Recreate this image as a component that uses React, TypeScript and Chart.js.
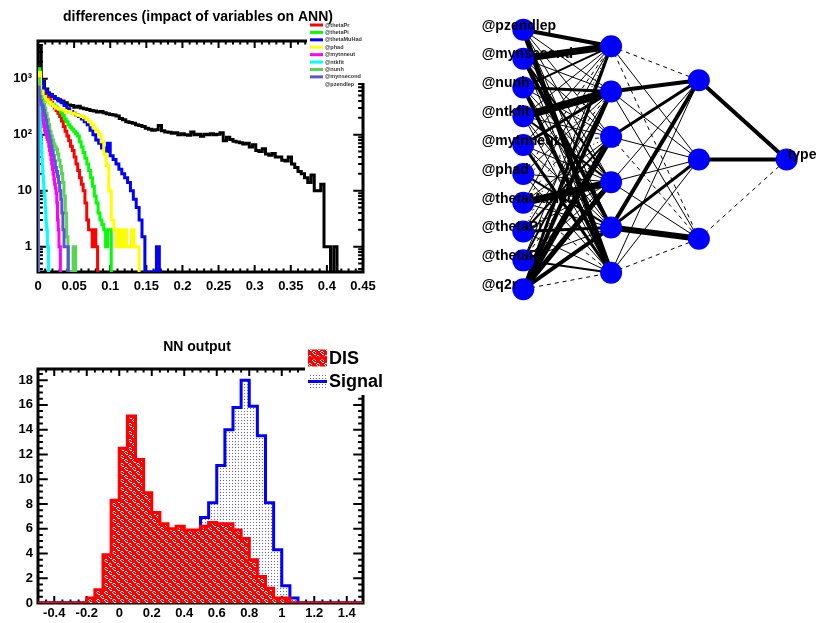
import React, { useEffect, useRef } from 'react';
import { Chart, registerables } from 'chart.js';

Chart.register(...registerables);

const FONT = "'Liberation Sans', Arial, Helvetica, sans-serif";

// ---------- differences (impact of variables on ANN) ----------
const DIFF_TITLE = 'differences (impact of variables on ANN)';
const DIFF_X_TICKS = [0, 0.05, 0.1, 0.15, 0.2, 0.25, 0.3, 0.35, 0.4, 0.45];
const DIFF_X_LABELS = ['0', '0.05', '0.1', '0.15', '0.2', '0.25', '0.3', '0.35', '0.4', '0.45'];
const DIFF_Y_TICKS = [1, 10, 100, 1000];
const DIFF_Y_LABELS = ['1', '10', '10²', '10³'];
const DIFF_X_MIN = 0;
const DIFF_X_MAX = 0.45;
const DIFF_Y_MIN = 0.353;
const DIFF_Y_MAX = 4700;

// bin contents per input variable (each histogram has its own bin width)
const BIN_Q2R = 0.0045;
const DIFF_Q2R = [
  3700, 900, 650, 520, 480, 440, 420, 400, 370, 340,
  330, 310, 320, 300, 290, 280, 270, 265, 255, 260,
  245, 235, 230, 225, 215, 195, 185, 170, 165, 160,
  150, 145, 140, 130, 125, 120, 122, 145, 118, 112,
  110, 106, 108, 100, 104, 100, 98, 112, 100, 102,
  94, 102, 100, 104, 100, 102, 108, 78, 90, 82,
  76, 74, 72, 68, 70, 60, 66, 52, 50, 56,
  45, 43, 46, 40, 40, 35, 34, 40, 30, 26,
  22, 20, 17, 14, 19, 10, 10, 13, 1, 1,
  0, 1, 0,
];
const BIN_THETAPR = 0.0025;
const DIFF_THETAPR = [
  900, 650, 580, 540, 500, 470, 420, 380, 340, 300,
  270, 240, 210, 175, 140, 115, 95, 78, 62, 52,
  40, 30, 23, 17, 13, 10, 6, 3, 2, 2,
  1, 2, 1, 0,
];
const BIN_THETAPI = 0.0026;
const DIFF_THETAPI = [
  1500, 600, 480, 440, 410, 390, 370, 350, 340, 320,
  300, 280, 250, 220, 190, 170, 150, 135, 125, 115,
  105, 95, 75, 60, 48, 38, 30, 23, 17, 12,
  8, 6, 4, 3, 2.5, 2, 1, 2, 2, 0,
];
const BIN_THETAMUHAD = 0.004;
const DIFF_THETAMUHAD = [
  1200, 900, 640, 560, 520, 480, 440, 400, 370, 330,
  290, 260, 240, 225, 210, 190, 170, 150, 120, 100,
  80, 70, 58, 50, 70, 42, 36, 30, 24, 20,
  17, 14, 10, 7, 5, 3, 1.5, 0, 0, 0,
  0, 1, 0,
];
const BIN_PHAD = 0.0035;
const DIFF_PHAD = [
  1300, 600, 480, 420, 380, 350, 320, 300, 290, 280,
  270, 255, 260, 240, 235, 225, 220, 210, 200, 185,
  170, 150, 130, 115, 100, 75, 45, 28, 10, 3,
  2, 1, 2, 1, 2, 1, 1, 2, 1, 1,
];
const BIN_MYTNNEUT = 0.001;
const DIFF_MYTNNEUT = [
  900, 500, 380, 300, 250, 210, 180, 160, 140, 120,
  110, 100, 90, 82, 75, 62, 52, 44, 36, 30,
  24, 20, 16, 13, 11, 9, 6, 3, 2, 1,
  1, 0,
];
const BIN_NTKFIT = 0.0005;
const DIFF_NTKFIT = [
  800, 600, 480, 370, 260, 190, 140, 110, 80, 60,
  48, 36, 28, 22, 18, 14, 11, 9, 8, 7,
  5, 4, 3, 2.5, 2, 2, 1, 1, 1, 0,
];
const BIN_NUNH = 0.0018;
const DIFF_NUNH = [
  1000, 600, 480, 400, 350, 300, 240, 190, 150, 115,
  95, 80, 68, 60, 55, 45, 35, 27, 20, 14,
  8, 4, 1.5, 0, 0, 0, 0, 1, 1, 0,
];
const BIN_MYNSECOND = 0.0015;
const DIFF_MYNSECOND = [
  700, 480, 400, 350, 320, 270, 220, 180, 140, 115,
  95, 78, 62, 52, 42, 34, 26, 22, 18, 14,
  10, 7, 4, 2, 1, 1, 1, 1,
];

const DIFF_SERIES = [
  { name: '@q2r', color: '#000000', bin: BIN_Q2R, counts: DIFF_Q2R },
  { name: '@thetaPr', color: '#ff0000', bin: BIN_THETAPR, counts: DIFF_THETAPR },
  { name: '@thetaPi', color: '#00ff00', bin: BIN_THETAPI, counts: DIFF_THETAPI },
  { name: '@thetaMuHad', color: '#0000ff', bin: BIN_THETAMUHAD, counts: DIFF_THETAMUHAD },
  { name: '@phad', color: '#ffff00', bin: BIN_PHAD, counts: DIFF_PHAD },
  { name: '@mytnneut', color: '#ff00ff', bin: BIN_MYTNNEUT, counts: DIFF_MYTNNEUT },
  { name: '@ntkfit', color: '#00ffff', bin: BIN_NTKFIT, counts: DIFF_NTKFIT },
  { name: '@nunh', color: '#59d454', bin: BIN_NUNH, counts: DIFF_NUNH },
  { name: '@mynsecond', color: '#5954d9', bin: BIN_MYNSECOND, counts: DIFF_MYNSECOND },
  { name: '@pzendlep', color: '#ffffff', bin: 0, counts: [] as number[] },
];

// ---------- NN output ----------
const NN_TITLE = 'NN output';
const NN_X_MIN = -0.5;
const NN_X_MAX = 1.5;
const NN_BIN = 0.05;
const NN_Y_MIN = 0;
const NN_Y_MAX = 18.9;
const NN_X_TICKS = [-0.4, -0.2, 0, 0.2, 0.4, 0.6, 0.8, 1, 1.2, 1.4];
const NN_X_LABELS = ['-0.4', '-0.2', '0', '0.2', '0.4', '0.6', '0.8', '1', '1.2', '1.4'];
const NN_Y_TICKS = [0, 2, 4, 6, 8, 10, 12, 14, 16, 18];
const NN_Y_LABELS = ['0', '2', '4', '6', '8', '10', '12', '14', '16', '18'];
const NN_DIS = [
  0, 0, 0, 0, 0, 0, 0.4, 1.07, 3.9, 8.3,
  12.5, 15.1, 11.6, 8.9, 7.3, 6.4, 6.0, 6.2, 5.9, 5.9,
  6.2, 6.5, 6.4, 6.4, 5.9, 5.2, 3.5, 2.15, 1.2, 0.4,
  0.4, 0, 0, 0, 0, 0, 0, 0, 0, 0,
];
const NN_SIGNAL = [
  0, 0, 0, 0, 0, 0, 0.15, 0.15, 0.15, 0.15,
  0.4, 1.2, 1.2, 1.8, 2.1, 2.3, 2.9, 3.8, 4.6, 5.1,
  6.9, 8.1, 11.1, 14.0, 15.8, 18.0, 15.9, 13.5, 8.1, 4.3,
  1.4, 0.4, 0, 0, 0, 0, 0, 0, 0, 0,
];
const NN_LEGEND = ['DIS', 'Signal'];

// ---------- network structure ----------
const NET_INPUTS = ['@q2r', '@thetaPr', '@thetaPi', '@thetaMuHad', '@phad', '@mytnneut', '@ntkfit', '@nunh', '@mynsecond', '@pzendlep'];
const NET_HIDDEN = [6, 3];
const NET_OUTPUTS = ['type'];
// synapse weights relative to the largest one (rows: from-neuron, cols: to-neuron, bottom to top)
const W_IN_H1 = [
  [-0.03, 0.45, -0.55, 0.65, 0.42, 0.36],
  [0.25, -0.12, 0.13, -0.03, 0.22, -0.11],
  [0.14, -0.33, 0.11, 0.24, -0.12, 0.02],
  [-0.03, 0.12, 0.74, -0.15, 0.03, 0.13],
  [0.11, -0.21, 0.14, 0.02, -0.12, -0.03],
  [0.32, -0.11, 0.13, -0.03, 0.35, 0.11],
  [0.12, -0.14, 0.23, 0.11, -0.84, 0.13],
  [-0.45, 0.13, 0.12, -0.14, 0.33, 0.22],
  [0.11, 0.44, -0.23, 0.12, 0.15, -0.76],
  [0.54, -0.13, 0.12, 0.11, -0.14, 0.45],
];
const W_H1_H2 = [
  [-0.03, 0.12, 0.11],
  [0.65, -0.35, 0.44],
  [0.13, 0.11, -0.12],
  [-0.03, 0.14, 0.33],
  [0.11, -0.12, 0.45],
  [0.03, 0.13, -0.04],
];
const W_H2_OUT = [[-0.03], [0.43], [0.46]];

// ---------- helpers ----------
function histPoints(counts: number[], lo: number, width: number, floor: number) {
  const pts = [{ x: lo, y: floor }];
  counts.forEach((c, i) => pts.push({ x: lo + i * width, y: c > 0 ? c : floor }));
  const last = counts[counts.length - 1];
  const hi = lo + counts.length * width;
  pts.push({ x: hi, y: last > 0 ? last : floor });
  pts.push({ x: hi, y: floor });
  return pts;
}

function range(from: number, to: number, step: number) {
  const out: number[] = [];
  const n = Math.round((to - from) / step);
  for (let i = 0; i <= n; i++) out.push(+(from + i * step).toFixed(6));
  return out;
}

function logMinor(lo: number, hi: number) {
  const out: number[] = [];
  for (let d = 0.1; d <= hi; d *= 10) {
    for (let m = 2; m <= 9; m++) {
      const v = m * d;
      if (v >= lo && v <= hi) out.push(v);
    }
  }
  return out;
}

type FrameTicks = { xMajor: number[]; xMinor: number[]; yMajor: number[]; yMinor: number[]; xLen: number; yLen: number };

function framePlugin(t: FrameTicks) {
  return {
    id: 'rootFrame',
    beforeDatasetsDraw(chart: any) {
      const { ctx, chartArea: a } = chart;
      const xs = chart.scales.x;
      const ys = chart.scales.y;
      ctx.save();
      ctx.strokeStyle = '#000';
      ctx.lineWidth = 2;
      ctx.beginPath();
      const xTick = (v: number, len: number) => {
        const px = xs.getPixelForValue(v);
        if (px < a.left - 0.5 || px > a.right + 0.5) return;
        ctx.moveTo(px, a.bottom);
        ctx.lineTo(px, a.bottom - len);
        ctx.moveTo(px, a.top);
        ctx.lineTo(px, a.top + len);
      };
      const yTick = (v: number, len: number) => {
        const py = ys.getPixelForValue(v);
        if (py < a.top - 0.5 || py > a.bottom + 0.5) return;
        ctx.moveTo(a.left, py);
        ctx.lineTo(a.left + len, py);
        ctx.moveTo(a.right, py);
        ctx.lineTo(a.right - len, py);
      };
      t.xMajor.forEach((v) => xTick(v, t.xLen));
      t.xMinor.forEach((v) => xTick(v, t.xLen / 2));
      t.yMajor.forEach((v) => yTick(v, t.yLen));
      t.yMinor.forEach((v) => yTick(v, t.yLen / 2));
      ctx.stroke();
      ctx.lineWidth = 3;
      ctx.strokeRect(a.left, a.top, a.right - a.left, a.bottom - a.top);
      ctx.restore();
    },
  };
}

function tickFont() {
  return { family: FONT, size: 13, weight: 'bold' as const };
}

// red "weave" hatch: white S-shaped curls on red
const WEAVE_TILE = [
  'RWWRRRRR',
  'WRRWRRRR',
  'RWRRRRRR',
  'RRWWRRRR',
  'RRRRRWWR',
  'RRRRWRRW',
  'RRRRRWRR',
  'RRRRRRWW',
];

function makeWeave(): any {
  const c = document.createElement('canvas');
  c.width = 8;
  c.height = 8;
  const g = c.getContext('2d');
  if (!g) return '#ff0000';
  WEAVE_TILE.forEach((row, y) => {
    for (let x = 0; x < row.length; x++) {
      g.fillStyle = row[x] === 'R' ? '#ff0000' : '#ffffff';
      g.fillRect(x, y, 1, 1);
    }
  });
  return g.createPattern(c, 'repeat') || '#ff0000';
}

function makeDots(): any {
  const c = document.createElement('canvas');
  c.width = 3;
  c.height = 3;
  const g = c.getContext('2d');
  if (!g) return 'rgba(0,0,255,0.15)';
  g.fillStyle = 'rgba(40,40,255,0.75)';
  g.fillRect(1, 1, 1, 1);
  return g.createPattern(c, 'repeat') || 'rgba(0,0,255,0.15)';
}

// ---------- panels ----------
function DiffPanel() {
  const ref = useRef<HTMLCanvasElement>(null);
  useEffect(() => {
    const canvas = ref.current;
    if (!canvas) return;
    const drawn = DIFF_SERIES.filter((s) => s.counts.length > 0);
    const datasets = drawn.map((s, i) => ({
      data: histPoints(s.counts, DIFF_X_MIN, s.bin, DIFF_Y_MIN),
      borderColor: s.color,
      borderWidth: 3,
      pointRadius: 0,
      stepped: true,
      fill: false,
      borderJoinStyle: 'miter',
      order: 100 - i,
    }));
    const overlay = {
      id: 'diffOverlay',
      afterDraw(chart: any) {
        const ctx = chart.ctx;
        ctx.save();
        ctx.fillStyle = '#fff';
        ctx.fillRect(307, 0, 95, 83);
        ctx.font = `bold 5.5px ${FONT}`;
        ctx.textAlign = 'left';
        ctx.textBaseline = 'middle';
        DIFF_SERIES.forEach((s, k) => {
          const y = 17.6 + 7.41 * k;
          ctx.strokeStyle = s.color;
          ctx.lineWidth = 3;
          ctx.beginPath();
          ctx.moveTo(310, y);
          ctx.lineTo(323, y);
          ctx.stroke();
          ctx.fillStyle = '#333';
          ctx.fillText(s.name, 325, y);
        });
        ctx.fillStyle = '#fff';
        ctx.fillRect(55, 0, 295, 23);
        ctx.fillStyle = '#000';
        ctx.font = `bold 14px ${FONT}`;
        ctx.textAlign = 'center';
        ctx.textBaseline = 'alphabetic';
        ctx.fillText(DIFF_TITLE, 198, 20.5);
        ctx.restore();
      },
    };
    const chart = new Chart(canvas, {
      type: 'line',
      data: { datasets: datasets as any },
      options: {
        responsive: false,
        animation: false,
        events: [],
        layout: { autoPadding: false, padding: { left: 0, top: 41, right: 48, bottom: 0 } },
        plugins: { legend: { display: false }, tooltip: { enabled: false }, title: { display: false } },
        scales: {
          x: {
            type: 'linear',
            min: DIFF_X_MIN,
            max: DIFF_X_MAX,
            grid: { display: false, drawTicks: false },
            border: { display: false },
            ticks: {
              autoSkip: false,
              maxRotation: 0,
              minRotation: 0,
              padding: 7,
              color: '#000',
              font: tickFont(),
              callback: (_v: any, i: number) => DIFF_X_LABELS[i],
            },
            afterBuildTicks: (s: any) => {
              s.ticks = DIFF_X_TICKS.map((value) => ({ value }));
            },
            afterFit: (s: any) => {
              s.height = 39;
            },
          },
          y: {
            type: 'logarithmic',
            min: DIFF_Y_MIN,
            max: DIFF_Y_MAX,
            grid: { display: false, drawTicks: false },
            border: { display: false },
            ticks: {
              autoSkip: false,
              padding: 6,
              color: '#000',
              font: tickFont(),
              callback: (_v: any, i: number) => DIFF_Y_LABELS[i],
            },
            afterBuildTicks: (s: any) => {
              s.ticks = DIFF_Y_TICKS.map((value) => ({ value }));
            },
            afterFit: (s: any) => {
              s.width = 38;
            },
          },
        },
      } as any,
      plugins: [
        framePlugin({
          xMajor: DIFF_X_TICKS,
          xMinor: range(DIFF_X_MIN, DIFF_X_MAX, 0.01),
          yMajor: DIFF_Y_TICKS,
          yMinor: logMinor(DIFF_Y_MIN, DIFF_Y_MAX),
          xLen: 7,
          yLen: 9.75,
        }),
        overlay,
      ],
    });
    return () => chart.destroy();
  }, []);
  return <canvas ref={ref} width={411} height={311} style={{ position: 'absolute', left: 0, top: 0 }} />;
}

function NetworkPanel() {
  const ref = useRef<HTMLCanvasElement>(null);
  useEffect(() => {
    const canvas = ref.current;
    if (!canvas) return;
    const sizes = [NET_INPUTS.length, ...NET_HIDDEN, NET_OUTPUTS.length];
    const weights = [W_IN_H1, W_H1_H2, W_H2_OUT];
    const ypos = (k: number, n: number) => (k + 1) / (n + 1);
    const edges: any[] = [];
    weights.forEach((m, L) => {
      m.forEach((row, i) => {
        row.forEach((w, j) => {
          const s = Math.abs(w) * 10;
          const dash = s < 0.25 ? [1, 3] : s < 0.5 ? [4, 4] : [];
          edges.push({
            type: 'scatter',
            showLine: true,
            data: [
              { x: L, y: ypos(i, sizes[L]) },
              { x: L + 1, y: ypos(j, sizes[L + 1]) },
            ],
            borderColor: '#000',
            borderWidth: Math.max(1, Math.floor(s)),
            borderDash: dash,
            borderCapStyle: 'butt',
            pointRadius: 0,
            clip: false,
            order: 1,
          });
        });
      });
    });
    const nodes: { x: number; y: number }[] = [];
    sizes.forEach((n, L) => {
      for (let k = 0; k < n; k++) nodes.push({ x: L, y: ypos(k, n) });
    });
    const labels = {
      id: 'netLabels',
      afterDatasetsDraw(chart: any) {
        const { ctx } = chart;
        const xs = chart.scales.x;
        const ys = chart.scales.y;
        ctx.save();
        ctx.fillStyle = '#000';
        ctx.font = `bold 14px ${FONT}`;
        ctx.textAlign = 'left';
        ctx.textBaseline = 'middle';
        NET_INPUTS.forEach((name, k) => {
          ctx.fillText(name, xs.getPixelForValue(0) - 41.6, ys.getPixelForValue(ypos(k, NET_INPUTS.length)) - 4);
        });
        const last = sizes.length - 1;
        NET_OUTPUTS.forEach((name, k) => {
          ctx.fillText(name, xs.getPixelForValue(last) + 1, ys.getPixelForValue(ypos(k, NET_OUTPUTS.length)) - 4);
        });
        ctx.restore();
      },
    };
    const chart = new Chart(canvas, {
      type: 'scatter',
      data: {
        datasets: [
          {
            data: nodes,
            pointRadius: 11,
            pointBackgroundColor: '#0000ff',
            pointBorderWidth: 0,
            clip: false,
            order: 0,
          } as any,
          ...edges,
        ],
      },
      options: {
        responsive: false,
        animation: false,
        events: [],
        layout: { autoPadding: false, padding: { left: 68.4, right: 9, top: 1, bottom: 2 } },
        plugins: { legend: { display: false }, tooltip: { enabled: false } },
        scales: {
          x: { type: 'linear', min: -0.5, max: 3.3, display: false },
          y: { type: 'linear', min: 0, max: 1, display: false },
        },
      } as any,
      plugins: [labels],
    });
    return () => chart.destroy();
  }, []);
  return <canvas ref={ref} width={411} height={320} style={{ position: 'absolute', left: 411, top: 0 }} />;
}

function OutputPanel() {
  const ref = useRef<HTMLCanvasElement>(null);
  useEffect(() => {
    const canvas = ref.current;
    if (!canvas) return;
    const weave = makeWeave();
    const dots = makeDots();
    const datasets = [
      {
        data: histPoints(NN_DIS, NN_X_MIN, NN_BIN, 0),
        borderColor: '#ff0000',
        backgroundColor: weave,
        fill: 'origin',
        borderWidth: 3,
        pointRadius: 0,
        stepped: true,
        borderJoinStyle: 'miter',
        order: 0,
      },
      {
        data: histPoints(NN_SIGNAL, NN_X_MIN, NN_BIN, 0),
        borderColor: '#0000ff',
        backgroundColor: dots,
        fill: 'origin',
        borderWidth: 3,
        pointRadius: 0,
        stepped: true,
        borderJoinStyle: 'miter',
        order: 1,
      },
    ];
    const overlay = {
      id: 'nnOverlay',
      afterDraw(chart: any) {
        const ctx = chart.ctx;
        ctx.save();
        ctx.fillStyle = '#fff';
        ctx.fillRect(305, 22, 100, 62);
        const entries = [
          { fill: weave, color: '#ff0000', y: 47 },
          { fill: dots, color: '#0000ff', y: 70.5 },
        ];
        entries.forEach((e, i) => {
          ctx.fillStyle = e.fill;
          ctx.fillRect(308, e.y - 8.5, 19, 17);
          ctx.strokeStyle = e.color;
          ctx.lineWidth = 3;
          ctx.beginPath();
          ctx.moveTo(308, e.y);
          ctx.lineTo(327, e.y);
          ctx.stroke();
          ctx.fillStyle = '#000';
          ctx.font = `bold 18px ${FONT}`;
          ctx.textAlign = 'left';
          ctx.textBaseline = 'middle';
          ctx.fillText(NN_LEGEND[i], 329, e.y + 1);
        });
        ctx.font = `bold 14px ${FONT}`;
        ctx.textAlign = 'center';
        ctx.textBaseline = 'alphabetic';
        ctx.fillStyle = '#000';
        ctx.fillText(NN_TITLE, 197, 39.7);
        ctx.restore();
      },
    };
    const chart = new Chart(canvas, {
      type: 'line',
      data: { datasets: datasets as any },
      options: {
        responsive: false,
        animation: false,
        events: [],
        layout: { autoPadding: false, padding: { left: 0, top: 58, right: 48, bottom: 0 } },
        plugins: { legend: { display: false }, tooltip: { enabled: false }, filler: { propagate: false } },
        scales: {
          x: {
            type: 'linear',
            min: NN_X_MIN,
            max: NN_X_MAX,
            grid: { display: false, drawTicks: false },
            border: { display: false },
            ticks: {
              autoSkip: false,
              maxRotation: 0,
              minRotation: 0,
              padding: 2.5,
              color: '#000',
              font: tickFont(),
              callback: (_v: any, i: number) => NN_X_LABELS[i],
            },
            afterBuildTicks: (s: any) => {
              s.ticks = NN_X_TICKS.map((value) => ({ value }));
            },
            afterFit: (s: any) => {
              s.height = 20;
            },
          },
          y: {
            type: 'linear',
            min: NN_Y_MIN,
            max: NN_Y_MAX,
            grid: { display: false, drawTicks: false },
            border: { display: false },
            ticks: {
              autoSkip: false,
              padding: 5,
              color: '#000',
              font: tickFont(),
              callback: (_v: any, i: number) => NN_Y_LABELS[i],
            },
            afterBuildTicks: (s: any) => {
              s.ticks = NN_Y_TICKS.map((value) => ({ value }));
            },
            afterFit: (s: any) => {
              s.width = 38;
            },
          },
        },
      } as any,
      plugins: [
        framePlugin({
          xMajor: NN_X_TICKS,
          xMinor: range(NN_X_MIN, NN_X_MAX, 0.05),
          yMajor: NN_Y_TICKS,
          yMinor: range(NN_Y_MIN, 18.5, 0.5),
          xLen: 7,
          yLen: 9.75,
        }),
        overlay,
      ],
    });
    return () => chart.destroy();
  }, []);
  return <canvas ref={ref} width={411} height={312} style={{ position: 'absolute', left: 0, top: 311 }} />;
}

export default function App() {
  return (
    <div
      style={{
        position: 'absolute',
        left: 0,
        top: 0,
        width: 822,
        height: 623,
        background: '#fff',
        overflow: 'hidden',
      }}
    >
      <OutputPanel />
      <DiffPanel />
      <NetworkPanel />
    </div>
  );
}
